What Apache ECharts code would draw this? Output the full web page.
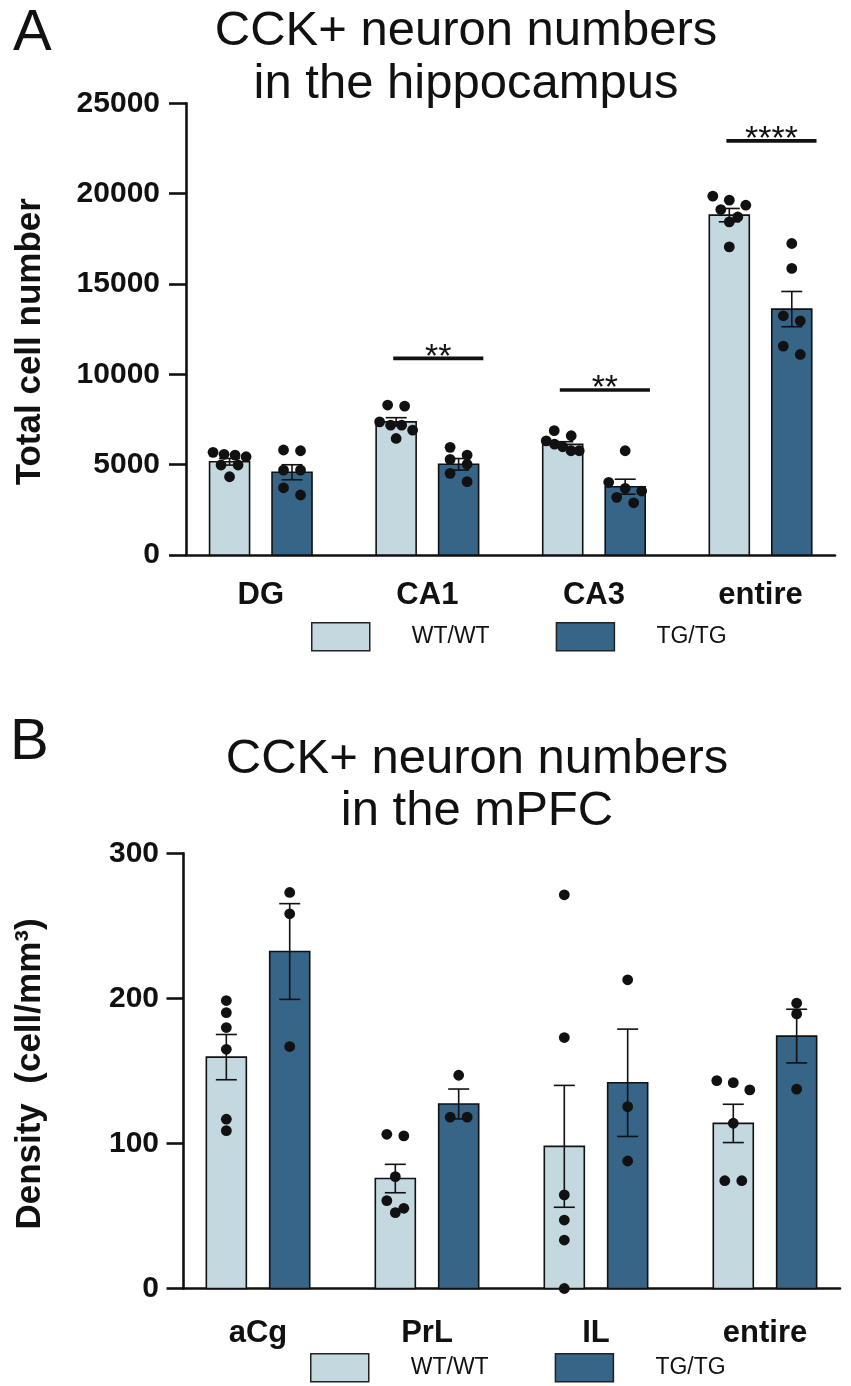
<!DOCTYPE html>
<html>
<head>
<meta charset="utf-8">
<style>
  html, body { margin: 0; padding: 0; background: #fff; }
  #main { width: 851px; height: 1386px; }
</style>
<script src="https://cdn.jsdelivr.net/npm/echarts@6/dist/echarts.min.js"></script>
</head>
<body>
<div id="main"></div>
<script>
var FONT = '"Liberation Sans", Arial, sans-serif';
var WT_COLOR = '#c4d8df';
var TG_COLOR = '#366588';
var INK = '#111';

// A: hippocampus, total cell number
var hipRegions = ['DG', 'CA1', 'CA3', 'entire'];
var hipWtMean = [5160, 7370, 6120, 18810];
var hipWtSem = [185, 230, 150, 370];
var hipTgMean = [4580, 5020, 3780, 13610];
var hipTgSem = [415, 320, 415, 975];
var hipWtDots = [
  [5680, 5530, 5570, 5440, 4980, 4980, 4330],
  [8240, 8300, 7190, 7370, 6910, 7190, 6450],
  [6880, 6320, 6600, 6140, 5990, 5770, 5770],
  [19640, 19860, 19360, 19120, 18710, 18440, 17050]
];
var hipTgDots = [
  [5770, 5810, 4700, 4700, 3720, 3320],
  [5530, 5960, 5020, 5290, 4520, 4060],
  [5770, 3690, 4020, 3540, 2890, 3190],
  [17240, 15860, 12960, 13240, 11560, 11100]
];
var hipSigIndex = [1, 2, 3];
var hipSigLevel = [10880, 9130, 22920];
var hipSigText = ['**', '**', '****'];

// B: mPFC, density
var pfcRegions = ['aCg', 'PrL', 'IL', 'entire'];
var pfcWtMean = [159.5, 75.8, 98, 113.8];
var pfcWtSem = [15.6, 9.8, 42, 13.2];
var pfcTgMean = [232.3, 127.2, 141.8, 174];
var pfcTgSem = [33, 10.3, 37, 18.5];
var pfcWtDots = [
  [198.5, 190.2, 179.9, 164.9, 116.7, 108.8],
  [106.3, 105.2, 77.1, 60.6, 55.3, 52.3],
  [271.4, 173.0, 64.5, 47.2, 33.4, 0],
  [141.9, 143.3, 136.9, 113.9, 74.3, 74.3]
];
var pfcTgDots = [
  [273.0, 258.3, 166.8],
  [147.0, 118.1, 118.1],
  [212.8, 125.4, 87.9],
  [196.7, 189.3, 137.4]
];

var BAR_SHIFT = 0.1875;   // bar centre offset from group centre, in category units
var BAR_W = 40;
var CAP = 10.5;

// bar + SEM whisker
function barItem(shift) {
  return function (params, api) {
    var x = api.value(0) + shift;
    var mean = api.value(1);
    var sem = api.value(2);
    var top = api.coord([x, mean]);
    var base = api.coord([x, 0]);
    var hi = api.coord([x, mean + sem])[1];
    var lo = api.coord([x, mean - sem])[1];
    var cx = top[0];
    var line = { stroke: INK, lineWidth: 1.6 };
    return {
      type: 'group',
      children: [
        { type: 'rect', shape: { x: cx - BAR_W / 2, y: top[1], width: BAR_W, height: base[1] - top[1] },
          style: { fill: api.visual('color'), stroke: INK, lineWidth: 1.6 } },
        { type: 'line', shape: { x1: cx, y1: hi, x2: cx, y2: lo }, style: line },
        { type: 'line', shape: { x1: cx - CAP, y1: hi, x2: cx + CAP, y2: hi }, style: line },
        { type: 'line', shape: { x1: cx - CAP, y1: lo, x2: cx + CAP, y2: lo }, style: line }
      ]
    };
  };
}

// individual animals, spread sideways when they would overlap
function dotItem(shift, dots) {
  return function (params, api) {
    var i = api.value(0);
    var cx = api.coord([i + shift, 0])[0];
    var ys = dots[i].map(function (v) { return api.coord([i + shift, v])[1]; });
    ys.sort(function (a, b) { return a - b; });
    var rows = [];
    ys.forEach(function (y) {
      var row = rows[rows.length - 1];
      if (row && y - row[0] < 10) {
        row.push(y);
      } else {
        rows.push([y]);
      }
    });
    var children = [];
    rows.forEach(function (row) {
      var n = row.length;
      var step = n > 1 ? Math.min(17, 33 / (n - 1)) : 0;
      row.forEach(function (y, k) {
        children.push({
          type: 'circle',
          shape: { cx: cx + (k - (n - 1) / 2) * step, cy: y, r: 5.4 },
          style: { fill: INK }
        });
      });
    });
    return { type: 'group', children: children };
  };
}

// significance bar with asterisks
function sigItem(texts) {
  return function (params, api) {
    var i = api.value(0);
    var p1 = api.coord([i - 0.205, api.value(1)]);
    var p2 = api.coord([i + 0.336, api.value(1)]);
    return {
      type: 'group',
      children: [
        { type: 'line', shape: { x1: p1[0], y1: p1[1], x2: p2[0], y2: p2[1] },
          style: { stroke: INK, lineWidth: 3.6 } },
        { type: 'text',
          style: { text: texts[params.dataIndex], x: (p1[0] + p2[0]) / 2, y: p1[1] - 1,
            align: 'center', verticalAlign: 'middle', textAlign: 'center', textVerticalAlign: 'middle',
            fontSize: 34, fontFamily: FONT, fill: INK } }
      ]
    };
  };
}

function xAxisFor(gridIndex, names, min, max, margin) {
  return {
    type: 'value', gridIndex: gridIndex, min: min, max: max, splitNumber: 4,
    splitLine: { show: false },
    axisTick: { show: false },
    axisLine: { onZero: false, lineStyle: { color: INK, width: 2.6 } },
    axisLabel: {
      margin: margin, fontSize: 31, fontWeight: 'bold', fontFamily: FONT, color: INK,
      formatter: function (v) {
        var k = Math.round(v);
        return Math.abs(v - k) < 1e-6 && names[k] ? names[k] : '';
      }
    }
  };
}

function yAxisFor(gridIndex, max, step, margin) {
  return {
    type: 'value', gridIndex: gridIndex, min: 0, max: max, interval: step,
    splitLine: { show: false },
    axisLine: { show: true, onZero: false, lineStyle: { color: INK, width: 2.6 } },
    axisTick: { show: true, length: 17, lineStyle: { color: INK, width: 2.6 } },
    axisLabel: { margin: margin, fontSize: 30, fontWeight: 'bold', fontFamily: FONT, color: INK,
      formatter: function (v) { return String(v); } }
  };
}

function series(gridIndex, names, wtMean, wtSem, tgMean, tgSem, wtDots, tgDots) {
  var wtData = names.map(function (n, i) { return [i, wtMean[i], wtSem[i]]; });
  var tgData = names.map(function (n, i) { return [i, tgMean[i], tgSem[i]]; });
  var idx = names.map(function (n, i) { return [i, 0]; });
  var common = { type: 'custom', xAxisIndex: gridIndex, yAxisIndex: gridIndex, encode: { x: 0, y: 1 } };
  return [
    Object.assign({}, common, { name: 'WT/WT', data: wtData, renderItem: barItem(-BAR_SHIFT),
      itemStyle: { color: WT_COLOR }, z: 2 }),
    Object.assign({}, common, { name: 'TG/TG', data: tgData, renderItem: barItem(BAR_SHIFT),
      itemStyle: { color: TG_COLOR }, z: 2 }),
    Object.assign({}, common, { name: 'dotsWT', data: idx, renderItem: dotItem(-BAR_SHIFT, wtDots), z: 4 }),
    Object.assign({}, common, { name: 'dotsTG', data: idx, renderItem: dotItem(BAR_SHIFT, tgDots), z: 4 })
  ];
}

function legendAt(left, top) {
  return {
    data: ['WT/WT', 'TG/TG'], left: left, top: top, orient: 'horizontal',
    icon: 'rect', itemWidth: 58, itemHeight: 28, itemGap: 66, selectedMode: false,
    itemStyle: { borderColor: '#222', borderWidth: 1.5 },
    textStyle: { fontSize: 23, fontFamily: FONT, color: INK, padding: [0, 0, 0, 37] }
  };
}

function titleText(text, x, y, size) {
  return { type: 'text', x: x, y: y,
    style: { text: text, fontSize: size, fontFamily: FONT, fill: INK,
      align: 'center', verticalAlign: 'middle', textAlign: 'center', textVerticalAlign: 'middle' } };
}

var chart = echarts.init(document.getElementById('main'), null, { renderer: 'canvas' });

var allSeries = []
  .concat(series(0, hipRegions, hipWtMean, hipWtSem, hipTgMean, hipTgSem, hipWtDots, hipTgDots))
  .concat(series(1, pfcRegions, pfcWtMean, pfcWtSem, pfcTgMean, pfcTgSem, pfcWtDots, pfcTgDots));

allSeries.push({
  type: 'custom', name: 'sig', xAxisIndex: 0, yAxisIndex: 0, encode: { x: 0, y: 1 }, z: 3,
  data: hipSigIndex.map(function (g, k) { return [g, hipSigLevel[k]]; }),
  renderItem: sigItem(hipSigText)
});

chart.setOption({
  animation: false,
  backgroundColor: '#fff',
  grid: [
    { left: 186, top: 103.3, width: 649, height: 451.7 },
    { left: 183.5, top: 853.3, width: 656.5, height: 435.2 }
  ],
  xAxis: [
    xAxisFor(0, hipRegions, -0.449, 3.447, 25),
    xAxisFor(1, pfcRegions, -0.441, 3.444, 29)
  ],
  yAxis: [
    yAxisFor(0, 25000, 5000, 26),
    yAxisFor(1, 300, 100, 24.5)
  ],
  legend: [legendAt(306, 617), legendAt(305, 1348)],
  graphic: [
    { type: 'text', x: 13, y: 34,
      style: { text: 'A', fontSize: 58, fontFamily: FONT, fill: INK,
        align: 'left', verticalAlign: 'middle', textAlign: 'left', textVerticalAlign: 'middle' } },
    titleText('CCK+ neuron numbers', 466, 31, 49),
    titleText('in the hippocampus', 466, 84, 49),
    { type: 'text', x: 10, y: 743,
      style: { text: 'B', fontSize: 58, fontFamily: FONT, fill: INK,
        align: 'left', verticalAlign: 'middle', textAlign: 'left', textVerticalAlign: 'middle' } },
    titleText('CCK+ neuron numbers', 477, 759, 49),
    titleText('in the mPFC', 477, 811, 49),
    { type: 'text', x: 30, y: 341.7, rotation: Math.PI / 2,
      style: { text: 'Total cell number', fontSize: 35, fontWeight: 'bold', fontFamily: FONT, fill: INK,
        align: 'center', verticalAlign: 'middle', textAlign: 'center', textVerticalAlign: 'middle' } },
    { type: 'text', x: 30.5, y: 1074, rotation: Math.PI / 2,
      style: { text: 'Density  (cell/mm\u00b3)', fontSize: 35, fontWeight: 'bold', fontFamily: FONT, fill: INK,
        align: 'center', verticalAlign: 'middle', textAlign: 'center', textVerticalAlign: 'middle' } }
  ],
  series: allSeries
});
</script>
</body>
</html>
